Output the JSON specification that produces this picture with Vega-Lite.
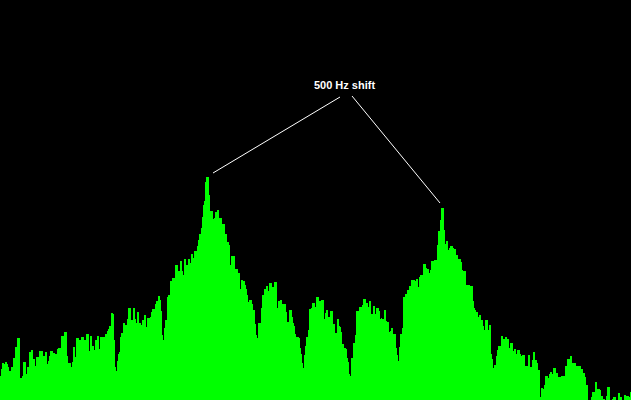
{"$schema":"https://vega.github.io/schema/vega-lite/v6.json","width":631,"height":400,"padding":0,"autosize":{"type":"none"},"background":"#000000","config":{"view":{"stroke":null}},
"datasets":{"bars":[
{"a":0,"b":1,"h":24},{"a":1,"b":2,"h":31},{"a":2,"b":4,"h":37},{"a":4,"b":5,"h":36},{"a":5,"b":7,"h":38},{"a":7,"b":8,"h":36},{"a":8,"b":9,"h":33},{"a":9,"b":11,"h":29},{"a":11,"b":13,"h":33},{"a":13,"b":15,"h":42},{"a":15,"b":17,"h":53},{"a":17,"b":20,"h":62},{"a":20,"b":22,"h":22},{"a":22,"b":23,"h":24},{"a":23,"b":26,"h":38},{"a":26,"b":27,"h":26},{"a":27,"b":29,"h":33},{"a":29,"b":31,"h":48},{"a":31,"b":33,"h":50},{"a":33,"b":35,"h":41},{"a":35,"b":36,"h":34},{"a":36,"b":39,"h":43},{"a":39,"b":43,"h":49},{"a":43,"b":45,"h":44},{"a":45,"b":47,"h":48},{"a":47,"b":48,"h":36},{"a":48,"b":49,"h":39},{"a":49,"b":50,"h":44},{"a":50,"b":53,"h":49},{"a":53,"b":55,"h":47},{"a":55,"b":57,"h":46},{"a":57,"b":58,"h":51},{"a":58,"b":61,"h":52},{"a":61,"b":64,"h":64},{"a":64,"b":67,"h":68},{"a":67,"b":68,"h":44},{"a":68,"b":71,"h":37},{"a":71,"b":72,"h":33},{"a":72,"b":73,"h":38},{"a":73,"b":75,"h":53},{"a":75,"b":76,"h":43},{"a":76,"b":79,"h":62},{"a":79,"b":81,"h":60},{"a":81,"b":84,"h":63},{"a":84,"b":86,"h":60},{"a":86,"b":89,"h":66},{"a":89,"b":90,"h":49},{"a":90,"b":92,"h":64},{"a":92,"b":94,"h":54},{"a":94,"b":95,"h":50},{"a":95,"b":97,"h":60},{"a":97,"b":99,"h":64},{"a":99,"b":100,"h":51},{"a":100,"b":105,"h":63},{"a":105,"b":107,"h":66},{"a":107,"b":108,"h":69},{"a":108,"b":109,"h":71},{"a":109,"b":111,"h":74},{"a":111,"b":113,"h":87},{"a":113,"b":114,"h":86},{"a":114,"b":115,"h":60},{"a":115,"b":116,"h":33},{"a":116,"b":117,"h":29},{"a":117,"b":118,"h":39},{"a":118,"b":119,"h":46},{"a":119,"b":120,"h":48},{"a":120,"b":121,"h":63},{"a":121,"b":123,"h":67},{"a":123,"b":125,"h":77},{"a":125,"b":127,"h":75},{"a":127,"b":128,"h":81},{"a":128,"b":131,"h":92},{"a":131,"b":133,"h":80},{"a":133,"b":135,"h":92},{"a":135,"b":136,"h":81},{"a":136,"b":137,"h":77},{"a":137,"b":139,"h":88},{"a":139,"b":141,"h":77},{"a":141,"b":142,"h":75},{"a":142,"b":144,"h":80},{"a":144,"b":146,"h":85},{"a":146,"b":147,"h":73},{"a":147,"b":150,"h":82},{"a":150,"b":151,"h":83},{"a":151,"b":152,"h":88},{"a":152,"b":155,"h":91},{"a":155,"b":156,"h":96},{"a":156,"b":158,"h":99},{"a":158,"b":160,"h":104},
{"a":160,"b":161,"h":100},{"a":161,"b":162,"h":89},{"a":162,"b":163,"h":65},{"a":163,"b":164,"h":60},{"a":164,"b":165,"h":72},{"a":165,"b":167,"h":80},{"a":167,"b":168,"h":103},{"a":168,"b":170,"h":105},{"a":170,"b":172,"h":119},{"a":172,"b":175,"h":122},{"a":175,"b":178,"h":135},{"a":178,"b":180,"h":129},{"a":180,"b":182,"h":139},{"a":182,"b":183,"h":129},{"a":183,"b":184,"h":125},{"a":184,"b":186,"h":141},{"a":186,"b":188,"h":135},{"a":188,"b":190,"h":141},{"a":190,"b":191,"h":137},{"a":191,"b":193,"h":146},{"a":193,"b":194,"h":142},{"a":194,"b":197,"h":149},{"a":197,"b":198,"h":154},{"a":198,"b":199,"h":160},{"a":199,"b":201,"h":166},{"a":201,"b":202,"h":172},{"a":202,"b":203,"h":183},{"a":203,"b":204,"h":195},{"a":204,"b":205,"h":199},{"a":205,"b":206,"h":218},{"a":206,"b":209,"h":223},{"a":209,"b":210,"h":205},{"a":210,"b":213,"h":189},{"a":213,"b":214,"h":181},{"a":214,"b":215,"h":182},{"a":215,"b":217,"h":188},{"a":217,"b":219,"h":190},{"a":219,"b":222,"h":182},{"a":222,"b":225,"h":176},{"a":225,"b":227,"h":166},{"a":227,"b":229,"h":158},{"a":229,"b":230,"h":155},{"a":230,"b":231,"h":135},{"a":231,"b":235,"h":144},{"a":235,"b":238,"h":131},{"a":238,"b":240,"h":127},{"a":240,"b":241,"h":111},{"a":241,"b":243,"h":120},{"a":243,"b":245,"h":119},{"a":245,"b":246,"h":115},{"a":246,"b":247,"h":111},{"a":247,"b":248,"h":105},{"a":248,"b":249,"h":98},{"a":249,"b":252,"h":100},{"a":252,"b":253,"h":96},{"a":253,"b":255,"h":90},{"a":255,"b":256,"h":76},{"a":256,"b":257,"h":65},{"a":257,"b":258,"h":62},{"a":258,"b":261,"h":77},{"a":261,"b":262,"h":92},{"a":262,"b":264,"h":105},{"a":264,"b":266,"h":111},{"a":266,"b":268,"h":114},{"a":268,"b":269,"h":109},{"a":269,"b":272,"h":117},{"a":272,"b":274,"h":113},{"a":274,"b":277,"h":118},{"a":277,"b":278,"h":92},{"a":278,"b":280,"h":99},{"a":280,"b":282,"h":100},{"a":282,"b":286,"h":96},{"a":286,"b":287,"h":88},{"a":287,"b":289,"h":78},{"a":289,"b":292,"h":90},{"a":292,"b":293,"h":83},{"a":293,"b":294,"h":77},{"a":294,"b":295,"h":74},{"a":295,"b":296,"h":66},{"a":296,"b":299,"h":63},{"a":299,"b":300,"h":62},{"a":300,"b":301,"h":52},{"a":301,"b":302,"h":46},{"a":302,"b":303,"h":37},{"a":303,"b":304,"h":32},{"a":304,"b":305,"h":45},{"a":305,"b":306,"h":54},{"a":306,"b":308,"h":63},{"a":308,"b":309,"h":70},{"a":309,"b":311,"h":91},{"a":311,"b":312,"h":92},{"a":312,"b":315,"h":97},{"a":315,"b":316,"h":93},{"a":316,"b":319,"h":103},{"a":319,"b":321,"h":99},
{"a":321,"b":324,"h":100},{"a":324,"b":325,"h":81},{"a":325,"b":326,"h":87},{"a":326,"b":328,"h":90},{"a":328,"b":330,"h":83},{"a":330,"b":333,"h":89},{"a":333,"b":335,"h":76},{"a":335,"b":337,"h":67},{"a":337,"b":339,"h":81},{"a":339,"b":340,"h":74},{"a":340,"b":341,"h":73},{"a":341,"b":342,"h":68},{"a":342,"b":344,"h":56},{"a":344,"b":346,"h":52},{"a":346,"b":347,"h":51},{"a":347,"b":348,"h":42},{"a":348,"b":349,"h":38},{"a":349,"b":350,"h":26},{"a":350,"b":351,"h":24},{"a":351,"b":353,"h":42},{"a":353,"b":355,"h":57},{"a":355,"b":356,"h":65},{"a":356,"b":359,"h":89},{"a":359,"b":362,"h":93},{"a":362,"b":363,"h":95},{"a":363,"b":366,"h":101},{"a":366,"b":368,"h":97},{"a":368,"b":369,"h":93},{"a":369,"b":371,"h":99},{"a":371,"b":373,"h":86},{"a":373,"b":375,"h":94},{"a":375,"b":376,"h":86},{"a":376,"b":379,"h":92},{"a":379,"b":380,"h":89},{"a":380,"b":381,"h":81},{"a":381,"b":382,"h":82},{"a":382,"b":384,"h":81},{"a":384,"b":386,"h":90},{"a":386,"b":387,"h":79},{"a":387,"b":389,"h":78},{"a":389,"b":390,"h":68},{"a":390,"b":391,"h":69},{"a":391,"b":393,"h":72},{"a":393,"b":396,"h":66},{"a":396,"b":397,"h":52},{"a":397,"b":398,"h":45},{"a":398,"b":399,"h":39},{"a":399,"b":400,"h":53},{"a":400,"b":402,"h":66},{"a":402,"b":403,"h":72},{"a":403,"b":405,"h":103},{"a":405,"b":407,"h":106},{"a":407,"b":409,"h":110},{"a":409,"b":411,"h":114},{"a":411,"b":415,"h":120},{"a":415,"b":416,"h":119},{"a":416,"b":418,"h":121},{"a":418,"b":419,"h":113},{"a":419,"b":420,"h":123},{"a":420,"b":423,"h":125},{"a":423,"b":426,"h":136},{"a":426,"b":427,"h":132},{"a":427,"b":429,"h":131},{"a":429,"b":430,"h":127},{"a":430,"b":431,"h":130},{"a":431,"b":434,"h":139},{"a":434,"b":437,"h":140},{"a":437,"b":438,"h":155},{"a":438,"b":440,"h":169},{"a":440,"b":441,"h":180},{"a":441,"b":444,"h":192},{"a":444,"b":445,"h":170},{"a":445,"b":446,"h":156},{"a":446,"b":448,"h":159},{"a":448,"b":449,"h":150},{"a":449,"b":450,"h":152},{"a":450,"b":453,"h":154},{"a":453,"b":454,"h":152},{"a":454,"b":456,"h":151},{"a":456,"b":458,"h":145},{"a":458,"b":461,"h":141},{"a":461,"b":462,"h":138},{"a":462,"b":463,"h":130},{"a":463,"b":466,"h":129},{"a":466,"b":470,"h":115},
{"a":470,"b":473,"h":114},{"a":473,"b":474,"h":99},{"a":474,"b":475,"h":92},{"a":475,"b":476,"h":90},{"a":476,"b":478,"h":88},{"a":478,"b":479,"h":83},{"a":479,"b":481,"h":85},{"a":481,"b":483,"h":80},{"a":483,"b":484,"h":74},{"a":484,"b":485,"h":70},{"a":485,"b":488,"h":80},{"a":488,"b":489,"h":70},{"a":489,"b":491,"h":75},{"a":491,"b":492,"h":46},{"a":492,"b":493,"h":41},{"a":493,"b":494,"h":32},{"a":494,"b":496,"h":35},{"a":496,"b":497,"h":44},{"a":497,"b":498,"h":50},{"a":498,"b":501,"h":54},{"a":501,"b":503,"h":64},{"a":503,"b":505,"h":61},{"a":505,"b":507,"h":63},{"a":507,"b":509,"h":61},{"a":509,"b":510,"h":52},{"a":510,"b":513,"h":57},{"a":513,"b":514,"h":49},{"a":514,"b":516,"h":51},{"a":516,"b":517,"h":46},{"a":517,"b":520,"h":50},{"a":520,"b":521,"h":46},{"a":521,"b":522,"h":44},{"a":522,"b":525,"h":45},{"a":525,"b":528,"h":34},{"a":528,"b":530,"h":45},{"a":530,"b":532,"h":33},{"a":532,"b":533,"h":40},{"a":533,"b":535,"h":48},{"a":535,"b":537,"h":40},{"a":537,"b":538,"h":37},{"a":538,"b":540,"h":30},{"a":540,"b":541,"h":3},{"a":541,"b":543,"h":12},{"a":543,"b":544,"h":11},{"a":544,"b":545,"h":15},{"a":545,"b":548,"h":24},{"a":548,"b":549,"h":22},{"a":549,"b":550,"h":26},{"a":550,"b":552,"h":28},{"a":552,"b":553,"h":26},{"a":553,"b":556,"h":32},{"a":556,"b":558,"h":27},{"a":558,"b":561,"h":23},{"a":561,"b":565,"h":24},{"a":565,"b":567,"h":34},{"a":567,"b":570,"h":41},{"a":570,"b":572,"h":44},{"a":572,"b":576,"h":37},{"a":576,"b":581,"h":34},{"a":581,"b":583,"h":31},{"a":583,"b":585,"h":27},{"a":585,"b":586,"h":23},{"a":586,"b":588,"h":15},{"a":591,"b":592,"h":3},{"a":592,"b":595,"h":8},{"a":595,"b":597,"h":18},{"a":597,"b":600,"h":11},{"a":600,"b":601,"h":10},{"a":601,"b":603,"h":4},{"a":603,"b":605,"h":1},{"a":606,"b":607,"h":4},{"a":607,"b":610,"h":13},{"a":612,"b":613,"h":1},{"a":613,"b":616,"h":3},{"a":618,"b":620,"h":7},{"a":620,"b":622,"h":3},{"a":624,"b":626,"h":5},{"a":626,"b":629,"h":4},{"a":629,"b":630,"h":3},{"a":630,"b":631,"h":8}
]},
"layer":[
{"data":{"name":"bars"},
"mark":{"type":"rect","color":"#00ff00"},
"encoding":{"x":{"field":"a","type":"quantitative","scale":{"domain":[0,631],"nice":false,"zero":false},"axis":null},"x2":{"field":"b"},"y":{"field":"h","type":"quantitative","scale":{"domain":[0,400],"nice":false},"axis":null},"y2":{"datum":0}}},
{"data":{"values":[{"x":213,"x2":340,"y":227,"y2":303},{"x":352,"x2":440,"y":304,"y2":197}]},
"mark":{"type":"rule","color":"#ffffff","strokeWidth":1},
"encoding":{"x":{"field":"x","type":"quantitative","axis":null},"x2":{"field":"x2"},"y":{"field":"y","type":"quantitative","axis":null},"y2":{"field":"y2"}}},
{"data":{"values":[{"x":344.5,"y":314,"label":"500 Hz shift"}]},
"mark":{"type":"text","color":"#ffffff","font":"Liberation Sans","fontWeight":"bold","fontSize":11,"align":"center","baseline":"middle"},
"encoding":{"x":{"field":"x","type":"quantitative","axis":null},"y":{"field":"y","type":"quantitative","axis":null},"text":{"field":"label"}}}
]}
